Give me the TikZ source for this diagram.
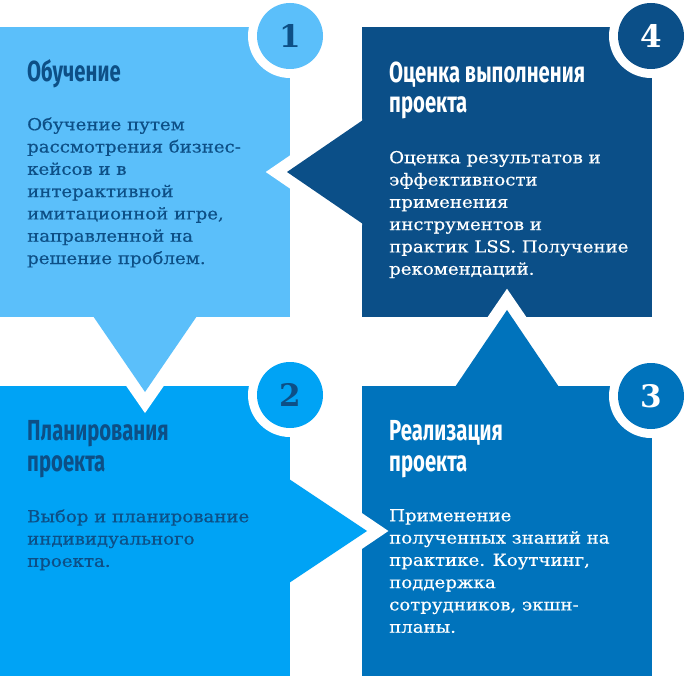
\documentclass[tikz,border=0pt]{standalone}
\usepackage{fontspec}
\newfontfamily\headfont[FakeStretch=0.70]{Fira Sans}
\newfontfamily\bodyfont[FakeStretch=1.1,FakeBold=0.5]{DejaVu Serif}
\newfontfamily\numfont{DejaVu Serif}
\definecolor{cA}{HTML}{5BBFFA}
\definecolor{cB}{HTML}{00A3F5}
\definecolor{cC}{HTML}{0073BC}
\definecolor{cD}{HTML}{0B4F88}
\definecolor{dk}{HTML}{0D4F86}
\tikzset{
  box/.style={draw=none, minimum width=290pt, minimum height=290pt, inner sep=0pt, outer sep=0pt},
  head/.style={inner sep=0pt, anchor=base west, font=\headfont\bfseries\fontsize{29}{31}\selectfont},
  body/.style={inner sep=0pt, anchor=north west, align=left, font=\bodyfont\fontsize{16.5}{22.3}\selectfont},
  num/.style={inner sep=0pt, font=\numfont\bfseries\fontsize{31}{31}\selectfont},
  ring/.style={circle, fill=white, minimum size=84pt, inner sep=0pt},
  disc/.style={circle, minimum size=66pt, inner sep=0pt},
  gap/.style={draw=white, line width=24pt, line join=miter, line cap=butt},
}
\begin{document}
\begin{tikzpicture}[x=1pt,y=-1pt]
\useasboundingbox[fill=white] (0,0) rectangle (688,676);
% boxes
\node[box, fill=cA] (b1) at (145,172) {};
\node[box, fill=cD] (b4) at (507,172) {};
\node[box, fill=cB] (b2) at (145,531) {};
\node[box, fill=cC] (b3) at (507,531) {};
% arrow 4 -> 1
\begin{scope}
  \clip (0,0) rectangle (362,676);
  \draw[gap] (363,120) -- (287,172) -- (363,224);
\end{scope}
\fill[cD] (363,120) -- (287,172) -- (363,224) -- cycle;
% arrow 1 -> 2
\begin{scope}
  \clip (0,318) rectangle (688,676);
  \draw[gap] (93,317) -- (145,392) -- (197,317);
\end{scope}
\fill[cA] (93,316) -- (145,392) -- (197,316) -- cycle;
% arrow 2 -> 3
\begin{scope}
  \clip (291,0) rectangle (688,676);
  \draw[gap] (290,479) -- (367,531) -- (290,583);
\end{scope}
\fill[cB] (289,479) -- (367,531) -- (289,583) -- cycle;
% arrow 3 -> 4
\begin{scope}
  \clip (0,0) rectangle (688,385);
  \draw[gap] (455,386) -- (507,310) -- (559,386);
\end{scope}
\fill[cC] (455,387) -- (507,310) -- (559,387) -- cycle;
% number circles
\node[ring] (r1) at (290,36) {};
\node[disc, fill=cA] (n1) at (290,36) {};
\node[num, text=dk] (d1) at (n1.center) {1};
\node[ring] (r4) at (651,36) {};
\node[disc, fill=cD] (n4) at (651,36) {};
\node[num, text=white] (d4) at (n4.center) {4};
\node[ring] (r2) at (290,395) {};
\node[disc, fill=cB] (n2) at (290,395) {};
\node[num, text=dk] (d2) at (n2.center) {2};
\node[ring] (r3) at (651,396) {};
\node[disc, fill=cC] (n3) at (651,396) {};
\node[num, text=white] (d3) at (n3.center) {3};
% texts box 1
\node[head, text=dk] (h1) at (27,82) {Обучение};
\node[body, text=dk] (t1) at (27,114.4) {\strut Обучение путем\\рассмотрения бизнес-\\кейсов и в\\интерактивной\\имитационной игре,\\направленной на\\решение проблем.};
% box 4
\node[head, text=white] (h4a) at (389,83) {Оценка выполнения};
\node[head, text=white] (h4b) at (389,113) {проекта};
\node[body, text=white] (t4) at (389,147.4) {\strut Оценка результатов и\\эффективности\\применения\\инструментов и\\практик LSS. Получение\\рекомендаций.};
% box 2
\node[head, text=dk] (h2a) at (27,440) {Планирования};
\node[head, text=dk] (h2b) at (27,471) {проекта};
\node[body, text=dk] (t2) at (27,506.4) {\strut Выбор и планирование\\индивидуального\\проекта.};
% box 3
\node[head, text=white] (h3a) at (389,440) {Реализация};
\node[head, text=white] (h3b) at (389,471) {проекта};
\node[body, text=white] (t3) at (389,505.4) {\strut Применение\\полученных знаний на\\практике. Коутчинг,\\поддержка\\сотрудников, экшн-\\планы.};
\end{tikzpicture}
\end{document}
